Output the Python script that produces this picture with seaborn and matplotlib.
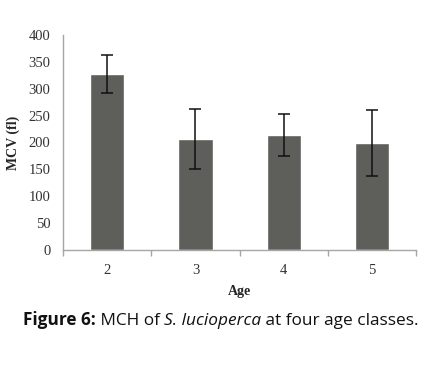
import pandas as pd
import matplotlib.pyplot as plt
import seaborn as sns

# -----------------------------
# Data
# -----------------------------
ages = ['2', '3', '4', '5']
mcv_mean = [328, 206, 214, 199]
mcv_err = [35, 56, 39, 62]

df = pd.DataFrame({'age': ages, 'mcv': mcv_mean})

sns.set_style('white')
plt.rcParams['font.family'] = ['Liberation Serif', 'DejaVu Serif']

fig = plt.figure(figsize=(4.38, 3.73), dpi=100)
ax = fig.add_axes([0.144, 0.330, 0.806, 0.576])

sns.barplot(x='age', y='mcv', data=df, color='#5e5e5a', saturation=1,
            width=0.39, errorbar=None, ax=ax)

# error bars on the bar centres
xs = [p.get_x() + p.get_width() / 2 for p in ax.patches]
ax.errorbar(xs, mcv_mean, yerr=mcv_err, fmt='none', ecolor='#111111',
            elinewidth=1.1, capsize=4.2, capthick=1.1)

ax.set_xlim(-0.5, 3.5)
ax.set_ylim(0, 400)
ax.set_yticks(range(0, 401, 50))
ax.set_xticks([0, 1, 2, 3])
ax.set_xticks([-0.5, 0.5, 1.5, 2.5, 3.5], minor=True)

axis_col = '#a6a6a6'
for side in ['top', 'right']:
    ax.spines[side].set_visible(False)
for side in ['left', 'bottom']:
    ax.spines[side].set_color(axis_col)
    ax.spines[side].set_linewidth(1.0)

ax.tick_params(axis='y', which='major', direction='out', length=4, width=1,
               color=axis_col, labelsize=10.5, labelcolor='#333333', pad=5)
ax.tick_params(axis='x', which='major', length=0, labelsize=10.5,
               labelcolor='#333333', pad=10)
ax.tick_params(axis='x', which='minor', direction='out', length=4, width=1,
               color=axis_col, bottom=True)

ax.set_xlabel('Age', fontsize=10, fontweight='bold', labelpad=6)
ax.set_ylabel('MCV (fl)', fontsize=10, fontweight='bold', labelpad=6)

# -----------------------------
# Caption, pieced together
# -----------------------------
fig.canvas.draw()
renderer = fig.canvas.get_renderer()
cap_font = ['Open Sans', 'DejaVu Sans']
pieces = [('Figure 6:', 'bold', 'normal'),
          (' MCH of ', 'normal', 'normal'),
          ('S. lucioperca', 'normal', 'italic'),
          (' at four age classes.', 'normal', 'normal')]
x0 = 23 / 438
y0 = 1 - 325 / 373
for txt, weight, style in pieces:
    t = fig.text(x0, y0, txt, fontsize=12.4, fontweight=weight, fontstyle=style,
                 family=cap_font, color='#111111', ha='left', va='baseline')
    bb = t.get_window_extent(renderer)
    x0 += bb.width / fig.bbox.width

plt.savefig('out.png', dpi=100)
